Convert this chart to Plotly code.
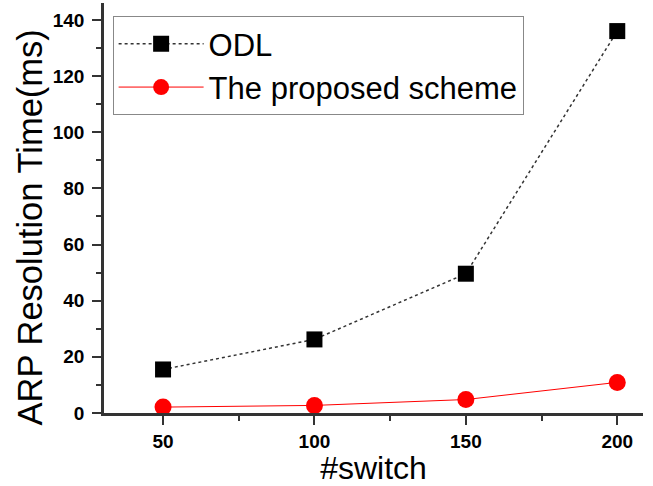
import plotly.graph_objects as go

switches = [50, 100, 150, 200]
odl_ms = [15.5, 26.2, 49.6, 136.0]
proposed_ms = [2.1, 2.7, 4.8, 10.9]

FONT = "Arial, Liberation Sans, sans-serif"
AX = "#333333"

fig = go.Figure()
fig.add_trace(go.Scatter(
    x=switches, y=odl_ms, name="ODL", mode="lines+markers",
    line=dict(color="#333333", width=1.5, dash="dot"),
    marker=dict(symbol="square", size=16, color="black"),
))
fig.add_trace(go.Scatter(
    x=switches, y=proposed_ms, name="The proposed scheme", mode="lines+markers",
    line=dict(color="red", width=1),
    marker=dict(symbol="circle", size=17, color="red"),
))

fig.update_layout(
    width=653, height=486,
    margin=dict(l=104, r=10, t=3, b=73),
    paper_bgcolor="white", plot_bgcolor="white",
    font=dict(family=FONT, color="black"),
    showlegend=True,
    legend=dict(
        x=0.016, y=0.968, xanchor="left", yanchor="top",
        bgcolor="white", bordercolor="#888888", borderwidth=1,
        font=dict(size=31, family=FONT, color="black"),
        itemwidth=85, tracegroupgap=0,
    ),
    annotations=[dict(
        text="ARP Resolution Time(ms)", textangle=-90,
        xref="paper", yref="paper", x=-0.137, y=0.453,
        xanchor="center", yanchor="middle", showarrow=False,
        font=dict(size=34.5, family=FONT, color="black"),
    )],
)
fig.update_xaxes(
    range=[30.5, 208.5], tickvals=switches,
    showline=True, linecolor=AX, linewidth=2.5, mirror=False,
    showgrid=False, zeroline=False,
    ticks="outside", ticklen=9, tickwidth=2, tickcolor=AX,
    minor=dict(ticks="outside", ticklen=5, tickwidth=2, tickcolor=AX, dtick=25, tick0=25, showgrid=False),
    tickfont=dict(size=19, family=FONT, color="black", weight="bold"),
    title=dict(text="#switch", font=dict(size=32, family=FONT, color="black"), standoff=6),
)
fig.update_yaxes(
    range=[0, 146], tickvals=[0, 20, 40, 60, 80, 100, 120, 140],
    showline=True, linecolor=AX, linewidth=2.5, mirror=False,
    showgrid=False, zeroline=False,
    ticks="outside", ticklen=9, tickwidth=2, tickcolor=AX,
    minor=dict(ticks="outside", ticklen=5, tickwidth=2, tickcolor=AX, dtick=10, tick0=0, showgrid=False),
    tickfont=dict(size=19, family=FONT, color="black", weight="bold"),
    ticklabelstandoff=4,
)

fig.write_html("out.html", config={"displayModeBar": False},
               post_script="document.body.style.margin='0';")
